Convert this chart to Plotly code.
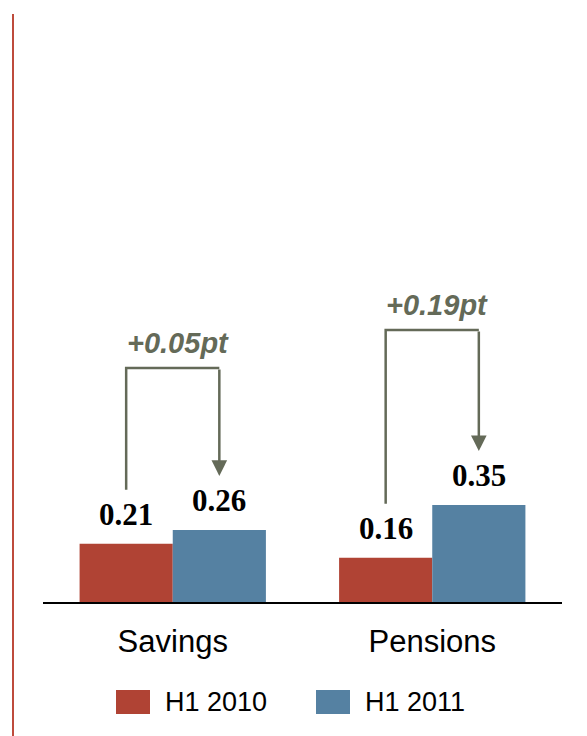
import plotly.graph_objects as go

# Data
categories = ["Savings", "Pensions"]
series_names = ["H1 2010", "H1 2011"]
h1_2010 = [0.21, 0.16]
h1_2011 = [0.26, 0.35]

# Styling
RED = "#B04334"
BLUE = "#5581A2"
ARROW = "#646A58"
SANS = "Arial, Liberation Sans, sans-serif"
SERIF = "Times New Roman, Liberation Serif, serif"

BARGAP = 0.282
HALF = (1 - BARGAP) / 4          # offset of each bar centre from its category centre
LABEL_GAP = 0.195                # bracket start / arrow tip above a bar, in data units
BRACKET_TOP = [0.845, 0.982]     # height of each bracket's horizontal run

W, H = 587, 736
ML, MR, MT, MB = 43, 25, 20, 134
PLOT_W = W - ML - MR
PLOT_H = H - MT - MB
Y_MAX = PLOT_H / 277.0

x_idx = list(range(len(categories)))

fig = go.Figure()
fig.add_trace(go.Bar(x=x_idx, y=h1_2010, name=series_names[0],
                     marker=dict(color=RED, line=dict(width=0)), showlegend=False))
fig.add_trace(go.Bar(x=x_idx, y=h1_2011, name=series_names[1],
                     marker=dict(color=BLUE, line=dict(width=0)), showlegend=False))

annotations = []
shapes = []

for i, (a, b) in enumerate(zip(h1_2010, h1_2011)):
    xa, xb = i - HALF, i + HALF
    # value labels above bars
    for xv, v in ((xa, a), (xb, b)):
        annotations.append(dict(
            x=xv, y=v, xref="x", yref="y", text=f"<b>{v:.2f}</b>",
            showarrow=False, yanchor="bottom", yshift=10,
            font=dict(family=SERIF, size=31, color="black")))
    top = BRACKET_TOP[i]
    # bracket: up from the 2010 bar, across to the 2011 bar
    shapes.append(dict(
        type="path", xref="x", yref="y",
        path=f"M {xa},{a + LABEL_GAP} L {xa},{top} L {xb},{top}",
        line=dict(color=ARROW, width=2.5)))
    # arrow down onto the 2011 bar
    annotations.append(dict(
        x=xb, y=b + LABEL_GAP, ax=xb, ay=top, xref="x", yref="y",
        axref="x", ayref="y", text="", showarrow=True,
        arrowhead=2, arrowsize=1.25, arrowwidth=2.5, arrowcolor=ARROW,
        standoff=0, startstandoff=0))
    # change label
    delta = b - a
    annotations.append(dict(
        x=i + 0.02, y=top, xref="x", yref="y",
        text=f"<b><i>{delta:+.2f}pt</i></b>", showarrow=False,
        yanchor="middle", yshift=25,
        font=dict(family=SANS, size=29, color=ARROW)))


def px_x(p):
    return (p - ML) / PLOT_W


def px_y(p):
    return (H - MB - p) / PLOT_H


# vertical rule on the left edge
shapes.append(dict(type="line", xref="paper", yref="paper",
                   x0=px_x(13), x1=px_x(13), y0=px_y(14), y1=px_y(740),
                   line=dict(color="#BE4B3C", width=2)))

# legend drawn as swatches and labels
legend_items = [(series_names[0], RED, 116, 163), (series_names[1], BLUE, 316, 363)]
for name, color, sx, tx in legend_items:
    shapes.append(dict(type="rect", xref="paper", yref="paper",
                       x0=px_x(sx), x1=px_x(sx + 34), y0=px_y(714), y1=px_y(690),
                       fillcolor=color, line=dict(width=0)))
    annotations.append(dict(x=px_x(tx), y=px_y(702), xref="paper", yref="paper",
                            text=name, showarrow=False, xanchor="left",
                            yanchor="middle",
                            font=dict(family=SANS, size=27, color="black")))

fig.update_layout(
    width=W, height=H,
    margin=dict(l=ML, r=MR, t=MT, b=MB),
    paper_bgcolor="white", plot_bgcolor="white",
    barmode="group", bargap=BARGAP, bargroupgap=0,
    showlegend=False,
    shapes=shapes, annotations=annotations,
    xaxis=dict(range=[-0.5, len(categories) - 0.5], tickvals=x_idx,
               ticktext=categories, showgrid=False, zeroline=False,
               showline=True, linecolor="black", linewidth=2, ticks="",
               ticklabelstandoff=11,
               tickfont=dict(family=SANS, size=31, color="black")),
    yaxis=dict(range=[0, Y_MAX], visible=False, showgrid=False, zeroline=False),
)

fig.write_html("out.html")
